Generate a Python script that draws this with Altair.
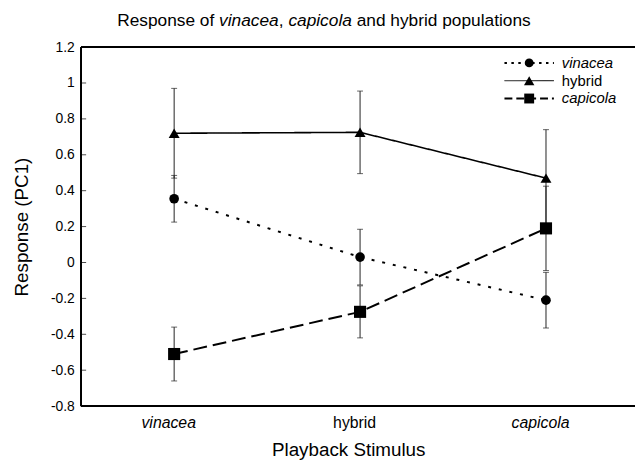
import altair as alt
import pandas as pd

# ---------------- data ----------------
stimuli = ["vinacea", "hybrid", "capicola"]
series = ["vinacea", "hybrid", "capicola"]

vinacea_mean = [0.355, 0.03, -0.21]
vinacea_se = [0.13, 0.155, 0.155]
hybrid_mean = [0.72, 0.725, 0.47]
hybrid_se = [0.25, 0.23, 0.27]
capicola_mean = [-0.51, -0.275, 0.19]
capicola_se = [0.15, 0.145, 0.235]

y_ticks = [-0.8, -0.6, -0.4, -0.2, 0.0, 0.2, 0.4, 0.6, 0.8, 1.0, 1.2]

rows = []
for s, means, ses in [("vinacea", vinacea_mean, vinacea_se),
                      ("hybrid", hybrid_mean, hybrid_se),
                      ("capicola", capicola_mean, capicola_se)]:
    for i, (st, m, e) in enumerate(zip(stimuli, means, ses)):
        rows.append(dict(series=s, stimulus=st, idx=i, mean=m, lo=m - e, hi=m + e))
df = pd.DataFrame(rows)
tick_df = pd.DataFrame({"v": y_ticks})
legend_df = pd.DataFrame({"series": series})

FONT = "Liberation Sans"
W, H = 560, 363

# ---------------- scales ----------------
x_scale = alt.Scale(type="point", domain=stimuli, range=[94, 470], padding=0)
y_scale = alt.Scale(domain=[-0.8, 1.2], nice=False, zero=False)
shape_scale = alt.Scale(domain=series, range=["circle", "triangle-up", "square"])
size_scale = alt.Scale(domain=series, range=[95, 150, 169])
dashes = {"vinacea": [3, 8], "hybrid": [1, 0], "capicola": [14, 6]}
leg_dashes = {"vinacea": [2.5, 4.5], "hybrid": [1, 0], "capicola": [8, 4]}
leg_width = {"vinacea": 2, "hybrid": 1, "capicola": 2}
leg_sizes = {"vinacea": 80, "hybrid": 110, "capicola": 100}
leg_shapes = {"vinacea": "circle", "hybrid": "triangle-up", "capicola": "square"}
leg_rows = {"vinacea": 16, "hybrid": 34, "capicola": 52}

x_axis = alt.Axis(
    title="Playback Stimulus", domain=False, ticks=False, grid=False,
    labelPadding=9, labelFontSize=16, labelOffset=-6, labelAngle=0,
    labelFont=FONT, labelColor="black",
    labelFontStyle={"condition": {"test": "datum.value === 'hybrid'", "value": "normal"},
                    "value": "italic"},
    titleFont=FONT, titleFontSize=19, titleFontWeight="normal", titleColor="black",
    titleX=270, titleY=50, titleAlign="center", titleBaseline="alphabetic",
)
y_axis = alt.Axis(
    title="Response (PC1)", values=y_ticks, ticks=False, grid=False, domain=False,
    labelOverlap=False, labelFlush=False,
    labelPadding=7, labelFontSize=14, labelFont=FONT, labelColor="black",
    labelExpr="datum.value < -0.001 ? '-' + format(-datum.value, '.1~f') : format(datum.value, '.1~f')",
    titleFont=FONT, titleFontSize=19, titleFontWeight="normal", titleColor="black",
    titleX=-60, titleY=H / 2, titleAngle=270, titleAlign="center", titleBaseline="middle",
)

Xa = alt.X("stimulus:N", scale=x_scale, axis=x_axis, sort=stimuli)


def Ya(field):
    return alt.Y(field, scale=y_scale, axis=y_axis)


base = alt.Chart(df)

# frame + inward y ticks
inner_ticks = alt.Chart(tick_df).mark_tick(color="black", size=5, thickness=1).encode(
    y=Ya("v:Q"), x=alt.value(2.5))
top_rule = alt.Chart(tick_df).mark_rule(color="black", strokeWidth=1).encode(
    y=alt.datum(1.2, type="quantitative", scale=y_scale, axis=y_axis))
bot_rule = alt.Chart(tick_df).mark_rule(color="black", strokeWidth=1).encode(
    y=alt.datum(-0.8, type="quantitative", scale=y_scale, axis=y_axis))
left_rule = alt.Chart(tick_df).mark_rule(color="black", strokeWidth=1).encode(
    x=alt.value(0),
    y=alt.datum(-0.8, type="quantitative", scale=y_scale, axis=y_axis),
    y2=alt.datum(1.2))

err = base.mark_rule(color="#222", strokeWidth=1).encode(
    x=Xa, y=Ya("lo:Q"), y2="hi:Q")
cap_lo = base.mark_tick(color="#222", size=6, thickness=1).encode(x=Xa, y=Ya("lo:Q"))
cap_hi = base.mark_tick(color="#222", size=6, thickness=1).encode(x=Xa, y=Ya("hi:Q"))

lines = []
for s in series:
    lines.append(
        base.transform_filter(alt.datum.series == s)
        .mark_line(color="black", strokeWidth=2 if s != "hybrid" else 1.6,
                   strokeDash=dashes[s])
        .encode(x=Xa, y=Ya("mean:Q"), order="idx:Q")
    )

points = base.mark_point(filled=True, color="black", opacity=1, strokeWidth=0).encode(
    x=Xa, y=Ya("mean:Q"),
    shape=alt.Shape("series:N", scale=shape_scale, legend=None),
    size=alt.Size("series:N", scale=size_scale, legend=None),
)

# ---------------- legend (manual) ----------------
leg_layers = []
for s in series:
    one = alt.Chart(legend_df).transform_filter(alt.datum.series == s)
    leg_layers.append(
        one.mark_rule(color="black", strokeWidth=leg_width[s], strokeDash=leg_dashes[s])
        .encode(x=alt.value(428), x2=alt.value(478), y=alt.value(leg_rows[s]))
    )
    leg_layers.append(
        one.mark_point(filled=True, color="black", opacity=1, strokeWidth=0,
                       shape=leg_shapes[s], size=leg_sizes[s])
        .encode(x=alt.value(453), y=alt.value(leg_rows[s]))
    )
    leg_layers.append(
        one.mark_text(align="left", baseline="middle", fontSize=15, font=FONT,
                      fontStyle="normal" if s == "hybrid" else "italic", color="black")
        .encode(x=alt.value(486), y=alt.value(leg_rows[s]), text="series:N")
    )

# ---------------- title with mixed italics ----------------
AW = {"R": 722, "e": 556, "s": 500, "p": 556, "o": 556, "n": 556, " ": 278, "f": 278,
      "v": 500, "i": 222, "a": 556, "c": 500, ",": 278, "l": 222, "d": 556, "h": 556,
      "y": 500, "b": 556, "r": 333, "u": 556, "t": 278}
TFS = 17.5


def tw(txt):
    return sum(AW[c] for c in txt) * TFS / 1000.0


full = "Response of vinacea, capicola and hybrid populations"
x0 = 245.5 - tw(full) / 2
segments = [
    ("Response of", "normal", 0.0),
    ("vinacea", "italic", tw("Response of ")),
    (",", "normal", tw("Response of vinacea")),
    ("capicola", "italic", tw("Response of vinacea, ")),
    ("and hybrid populations", "normal", tw("Response of vinacea, capicola ")),
]
title_layers = []
for txt, style, off in segments:
    title_layers.append(
        alt.Chart(legend_df.head(1)).mark_text(
            align="left", baseline="alphabetic", fontSize=TFS, font=FONT,
            fontStyle=style, color="black", text=txt
        ).encode(x=alt.value(x0 + off), y=alt.value(-21))
    )

chart = (
    alt.layer(inner_ticks, top_rule, bot_rule, left_rule, err, cap_lo, cap_hi, *lines, points,
              *leg_layers, *title_layers)
    .properties(width=W, height=H,
                autosize=alt.AutoSizeParams(type="none"),
                padding={"left": 74, "top": 37, "right": 0, "bottom": 52},
                background="white",
                view=alt.ViewBackground(stroke="transparent", strokeWidth=0))
    .configure_view(strokeWidth=0, stroke="transparent")
    .configure_axis(grid=False, domain=False, ticks=False)
    .configure_axisY(labelOverlap=False)
)

chart.save("out.html", embed_options={"renderer": "svg", "actions": False})
